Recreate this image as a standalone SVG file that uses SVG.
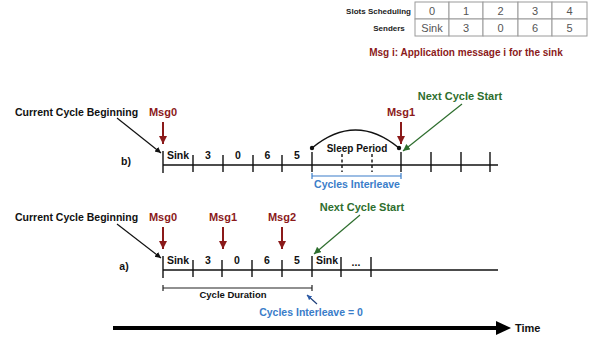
<svg xmlns="http://www.w3.org/2000/svg" width="594" height="341" viewBox="0 0 594 341">
<style>
  text { font-family: "Liberation Sans", Arial, sans-serif; }
  .b { font-weight: bold; }
  .red { fill: #8b1a1a; }
  .green { fill: #2e6e2e; }
  .blue { fill: #3a7dc9; }
  .lbl { font-size: 10.5px; font-weight: bold; fill: #111; text-anchor: middle; }
  .tick { stroke: #111; stroke-width: 1.4; }
  .dash { stroke: #111; stroke-width: 1.4; stroke-dasharray: 3 2.5; }
  .axis { stroke: #111; stroke-width: 1.4; }
  .tcell { fill: #fff; stroke: #9a9a9a; stroke-width: 1; }
  .ttxt { font-size: 11px; fill: #555; text-anchor: middle; }
  .thead { font-size: 8px; font-weight: bold; fill: #222; text-anchor: end; }
  .msg { font-size: 11px; font-weight: bold; fill: #8b1a1a; text-anchor: middle; }
  .redarrow { stroke: #8b1a1a; stroke-width: 2; marker-end: url(#redHead); }
  .greenarrow { stroke: #2e6e2e; stroke-width: 1.2; marker-end: url(#greenHead); }
  .blackarrow { stroke: #111; stroke-width: 1.2; marker-end: url(#blackHead); }
</style>
<defs>
  <marker id="redHead" markerUnits="userSpaceOnUse" markerWidth="10" markerHeight="10" refX="8" refY="4" orient="auto">
    <path d="M0,0 L8,4 L0,8 Z" fill="#8b1a1a"/>
  </marker>
  <marker id="greenHead" markerUnits="userSpaceOnUse" markerWidth="10" markerHeight="10" refX="7" refY="3.5" orient="auto">
    <path d="M0,0 L7,3.5 L0,7 Z" fill="#2e6e2e"/>
  </marker>
  <marker id="blackHead" markerUnits="userSpaceOnUse" markerWidth="10" markerHeight="10" refX="6" refY="3" orient="auto">
    <path d="M0,0 L6,3 L0,6 Z" fill="#111"/>
  </marker>
  <marker id="blueHead" markerUnits="userSpaceOnUse" markerWidth="8" markerHeight="8" refX="5" refY="2.5" orient="auto">
    <path d="M0,0 L5,2.5 L0,5 Z" fill="#2a5aa8"/>
  </marker>
</defs>

<!-- Legend table -->
<g id="table">
  <text class="thead" x="411" y="14">Slots Scheduling</text>
  <text class="thead" x="389" y="31" style="text-anchor:middle">Senders</text>
  <rect class="tcell" x="415" y="2" width="34" height="17"/>
  <rect class="tcell" x="449" y="2" width="34" height="17"/>
  <rect class="tcell" x="483" y="2" width="35" height="17"/>
  <rect class="tcell" x="518" y="2" width="34" height="17"/>
  <rect class="tcell" x="552" y="2" width="35" height="17"/>
  <rect class="tcell" x="415" y="19" width="34" height="17"/>
  <rect class="tcell" x="449" y="19" width="34" height="17"/>
  <rect class="tcell" x="483" y="19" width="35" height="17"/>
  <rect class="tcell" x="518" y="19" width="34" height="17"/>
  <rect class="tcell" x="552" y="19" width="35" height="17"/>
  <text class="ttxt" x="432" y="15">0</text>
  <text class="ttxt" x="466" y="15">1</text>
  <text class="ttxt" x="500.5" y="15">2</text>
  <text class="ttxt" x="535" y="15">3</text>
  <text class="ttxt" x="569.5" y="15">4</text>
  <text class="ttxt" x="432" y="32">Sink</text>
  <text class="ttxt" x="466" y="32">3</text>
  <text class="ttxt" x="500.5" y="32">0</text>
  <text class="ttxt" x="535" y="32">6</text>
  <text class="ttxt" x="569.5" y="32">5</text>
</g>
<g id="legend-note">
  <text class="b red" x="466" y="56" font-size="10" text-anchor="middle">Msg i: Application message i for the sink</text>
</g>

<!-- Timeline b) -->
<g id="timeline-b">
  <line class="axis" x1="163" y1="165" x2="498" y2="165"/>
  <line class="tick" x1="163" y1="151" x2="163" y2="173"/>
  <line class="tick" x1="193" y1="155" x2="193" y2="172"/>
  <line class="tick" x1="223" y1="155" x2="223" y2="172"/>
  <line class="tick" x1="253" y1="155" x2="253" y2="172"/>
  <line class="tick" x1="282" y1="155" x2="282" y2="172"/>
  <line class="tick" x1="312" y1="152" x2="312" y2="172"/>
  <line class="dash" x1="342" y1="154" x2="342" y2="172"/>
  <line class="dash" x1="372" y1="154" x2="372" y2="172"/>
  <line class="tick" x1="401" y1="152" x2="401" y2="172"/>
  <line class="tick" x1="431" y1="152" x2="431" y2="172"/>
  <line class="tick" x1="461" y1="152" x2="461" y2="172"/>
  <line class="tick" x1="490" y1="152" x2="490" y2="172"/>
  <text class="lbl" x="178" y="159">Sink</text>
  <text class="lbl" x="208" y="159">3</text>
  <text class="lbl" x="238" y="159">0</text>
  <text class="lbl" x="267.5" y="159">6</text>
  <text class="lbl" x="297" y="159">5</text>
  <text class="lbl" x="126" y="165">b)</text>
</g>
<g id="sleep-period">
  <path d="M312,148 Q355.5,112 399,148" fill="none" stroke="#111" stroke-width="1.3"/>
  <circle cx="312" cy="148" r="2.2" fill="#111"/>
  <circle cx="399" cy="148" r="2.2" fill="#111"/>
  <text class="b" x="357" y="152" font-size="10" text-anchor="middle" fill="#111">Sleep Period</text>
</g>
<g id="cycles-interleave-b">
  <line x1="312" y1="176" x2="401" y2="176" stroke="#3a7dc9" stroke-width="1.2"/>
  <line x1="312" y1="173" x2="312" y2="179" stroke="#3a7dc9" stroke-width="1.2"/>
  <line x1="401" y1="173" x2="401" y2="179" stroke="#3a7dc9" stroke-width="1.2"/>
  <text class="b blue" x="357" y="188" font-size="10.5" text-anchor="middle">Cycles Interleave</text>
</g>
<g id="label-ccb-b">
  <text class="b" x="15" y="116" font-size="10.5" fill="#111">Current Cycle Beginning</text>
</g>
<g id="msg0-b"><text class="msg" x="163" y="116">Msg0</text></g>
<g id="msg1-b"><text class="msg" x="401" y="116">Msg1</text></g>
<g id="next-b"><text class="b green" x="460" y="100" font-size="11" text-anchor="middle">Next Cycle Start</text></g>

<!-- Timeline a) -->
<g id="timeline-a">
  <line class="axis" x1="163" y1="270" x2="498" y2="270"/>
  <line class="tick" x1="163" y1="256" x2="163" y2="278"/>
  <line class="tick" x1="193" y1="260" x2="193" y2="277"/>
  <line class="tick" x1="222" y1="260" x2="222" y2="277"/>
  <line class="tick" x1="252" y1="260" x2="252" y2="277"/>
  <line class="tick" x1="282" y1="260" x2="282" y2="277"/>
  <line class="tick" x1="312" y1="256" x2="312" y2="277"/>
  <line class="tick" x1="341" y1="257" x2="341" y2="277"/>
  <line class="tick" x1="371" y1="257" x2="371" y2="277"/>
  <text class="lbl" x="178" y="264">Sink</text>
  <text class="lbl" x="208" y="264">3</text>
  <text class="lbl" x="237" y="264">0</text>
  <text class="lbl" x="267" y="264">6</text>
  <text class="lbl" x="297" y="264">5</text>
  <text class="lbl" x="327" y="264">Sink</text>
  <text class="lbl" x="356" y="266">...</text>
  <text class="lbl" x="124" y="270">a)</text>
</g>
<g id="cycle-duration">
  <line x1="163" y1="288" x2="312" y2="288" stroke="#222" stroke-width="1.2"/>
  <line x1="163" y1="285" x2="163" y2="291" stroke="#222" stroke-width="1.2"/>
  <line x1="312" y1="285" x2="312" y2="291" stroke="#222" stroke-width="1.2"/>
  <text class="b" x="233" y="298" font-size="9.5" text-anchor="middle" fill="#111">Cycle Duration</text>
</g>
<g id="cycles-interleave-a">
  <text class="b blue" x="311" y="316" font-size="10.5" text-anchor="middle">Cycles Interleave = 0</text>
</g>
<g id="label-ccb-a">
  <text class="b" x="15" y="221" font-size="10.5" fill="#111">Current Cycle Beginning</text>
</g>
<g id="msg0-a"><text class="msg" x="163" y="221">Msg0</text></g>
<g id="msg1-a"><text class="msg" x="223" y="221">Msg1</text></g>
<g id="msg2-a"><text class="msg" x="282" y="221">Msg2</text></g>
<g id="next-a"><text class="b green" x="362" y="211" font-size="11" text-anchor="middle">Next Cycle Start</text></g>

<g id="time-axis">
  <line x1="113" y1="328" x2="498" y2="328" stroke="#000" stroke-width="4"/>
  <polygon points="496,321 511,328 496,335" fill="#000"/>
  <text class="b" x="515" y="332" font-size="11" fill="#111">Time</text>
</g>

<!-- Connectors -->
<g id="connectors">
  <line class="blackarrow" x1="117" y1="118" x2="161" y2="153"/>
  <line class="redarrow" x1="163" y1="122" x2="163" y2="144"/>
  <line class="redarrow" x1="401" y1="122" x2="401" y2="144"/>
  <line class="greenarrow" x1="462" y1="104" x2="403" y2="151"/>

  <line class="blackarrow" x1="117" y1="224" x2="161" y2="258"/>
  <line class="redarrow" x1="163" y1="227" x2="163" y2="249"/>
  <line class="redarrow" x1="223" y1="227" x2="223" y2="249"/>
  <line class="redarrow" x1="282" y1="227" x2="282" y2="249"/>
  <line class="greenarrow" x1="360" y1="215" x2="314" y2="254"/>

  <line x1="317" y1="304" x2="307" y2="295" stroke="#1f3f7a" stroke-width="1.2" marker-end="url(#blueHead)"/>
</g>
</svg>
